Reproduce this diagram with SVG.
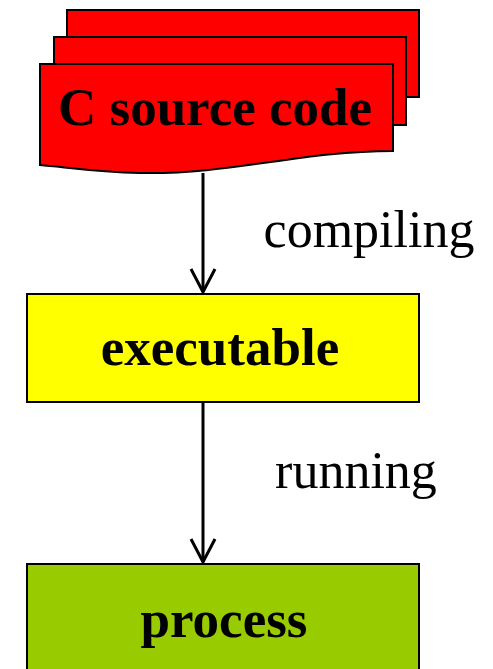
<svg xmlns="http://www.w3.org/2000/svg" width="493" height="669" viewBox="0 0 493 669">
<defs>
<style>
.box{stroke:#000;stroke-width:2}
.lbl{font-family:"Liberation Serif","Times New Roman",serif;font-weight:bold;font-size:53px;text-anchor:middle;fill:#000}
.edge{font-family:"Liberation Serif","Times New Roman",serif;font-size:52px;text-anchor:middle;fill:#000}
.conn{stroke:#000;stroke-width:3;fill:none}
</style>
<marker id="arr" markerUnits="userSpaceOnUse" markerWidth="30" markerHeight="30" refX="25" refY="12" orient="auto" viewBox="0 0 30 24">
<path d="M2,0 L25,12 L2,24" fill="none" stroke="#000" stroke-width="3"/>
</marker>
</defs>
<rect width="493" height="669" fill="#fff"/>
<g id="source">
<rect class="box" x="67" y="10" width="352" height="87" fill="#ff0000"/>
<rect class="box" x="54" y="37" width="352" height="88" fill="#ff0000"/>
<path class="box" d="M40,64 H393 V151 C300,151 230,175 140,173 C95,172 65,167 40,165 Z" fill="#ff0000"/>
<text class="lbl" x="215" y="125">C source code</text>
</g>
<g id="executable">
<rect class="box" x="27" y="294" width="392" height="108" fill="#ffff00"/>
<text class="lbl" x="220" y="365">executable</text>
</g>
<g id="process">
<rect class="box" x="27" y="564" width="392" height="120" fill="#99cc00"/>
<text class="lbl" x="224" y="637">process</text>
</g>
<g id="connectors">
<line class="conn" x1="203" y1="173" x2="203" y2="292" marker-end="url(#arr)"/>
<line class="conn" x1="203" y1="403" x2="203" y2="562" marker-end="url(#arr)"/>
<text class="edge" x="369" y="247">compiling</text>
<text class="edge" x="356" y="488">running</text>
</g>
</svg>
